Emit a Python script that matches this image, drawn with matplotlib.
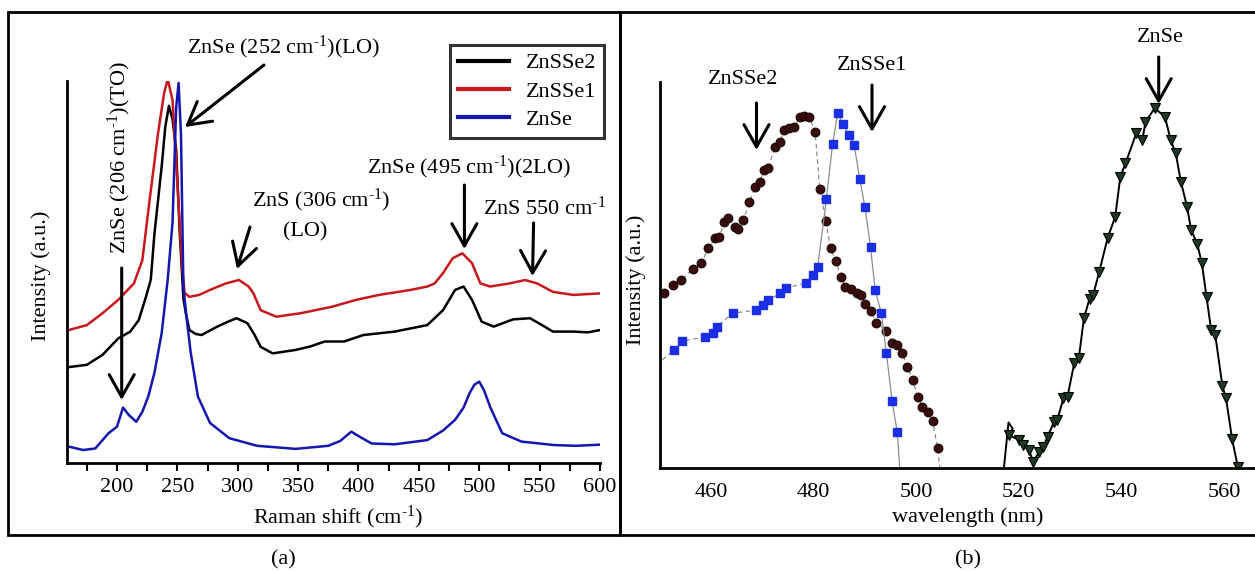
import matplotlib
matplotlib.use('Agg')
import matplotlib.pyplot as plt
from matplotlib.patches import Rectangle
from matplotlib.ticker import MultipleLocator

plt.rcParams['font.family'] = ['Liberation Serif', 'DejaVu Serif']
plt.rcParams['mathtext.fontset'] = 'custom'
plt.rcParams['mathtext.rm'] = 'Liberation Serif'
plt.rcParams['mathtext.default'] = 'regular'

# ---------------- Panel (a): Raman spectra ----------------
raman_znse_x = [160, 172, 182, 193, 200, 205, 210, 216, 221, 226, 231, 237, 242, 246, 249, 251,
                253, 255, 258, 261, 267, 277, 293, 316, 348, 375, 385, 394, 403, 411, 430, 457,
                470, 480, 487, 492, 496, 500, 504, 509, 519, 535, 562, 580, 600]
raman_znse_y = [4.3, 3.4, 3.8, 7.8, 9.5, 14.5, 12.5, 10.8, 13.4, 17.5, 23.6, 34, 48, 63, 93, 99.5,
                86, 46, 37, 29, 17.4, 10.5, 6.5, 4.5, 3.7, 4.5, 5.8, 8.2, 6.5, 5.1, 4.9, 6,
                8.5, 11.3, 14.5, 18.3, 20.5, 21.3, 19, 14.7, 7.8, 5.6, 4.7, 4.5, 4.8]

raman_zsse2_x = [160, 175, 188, 201, 211, 218, 224, 228, 231, 237, 240, 243, 246, 249, 252, 255,
                 257, 260, 265, 270, 283, 292, 299, 308, 314, 319, 329, 348, 360, 372, 388, 404,
                 430, 457, 470, 480, 487, 494, 502, 512, 528, 542, 552, 561, 578, 590, 600]
raman_zsse2_y = [25.1, 25.7, 28.3, 32.6, 34.4, 37.4, 43.5, 48, 60, 77.6, 88, 93.5, 90, 82, 60, 43,
                 39.2, 34.8, 33.8, 33.5, 35.7, 37, 37.9, 36.6, 33.5, 30.4, 28.7, 29.6, 30.5, 31.8, 31.8, 33.5,
                 34.4, 36.1, 40, 45.3, 46.2, 42.7, 37, 35.7, 37.6, 37.9, 36.1, 34.4, 34.4, 34.2, 34.8]

raman_zsse1_x = [160, 175, 188, 201, 214, 221, 227, 234, 239, 242, 246, 250, 254, 256, 260, 268,
                 277, 290, 301, 309, 313, 319, 332, 352, 378, 398, 417, 443, 457, 463, 470, 478,
                 486, 494, 501, 509, 525, 538, 548, 561, 578, 600]
raman_zsse1_y = [34.8, 36.1, 39.2, 42.7, 47, 53.1, 68.8, 86.3, 96.8, 100.5, 95, 73.3, 51.3, 44.5, 43.5, 44,
                 45.3, 47, 47.9, 46.2, 44.4, 40, 38.3, 39.2, 40.9, 42.7, 44, 45.3, 46.2, 47, 49.7, 53.6,
                 54.9, 52.3, 47, 46.2, 47, 47.9, 47, 44.8, 44, 44.4]

raman_ticks = [200, 250, 300, 350, 400, 450, 500, 550, 600]
raman_labels = ['ZnSSe2', 'ZnSSe1', 'ZnSe']

# ---------------- Panel (b): PL spectra ----------------
pl_zsse2_x = [450.9, 452.5, 454.1, 456.5, 458.1, 459.5, 460.8, 461.6, 462.6, 463.4, 464.6, 465.3,
              466.3, 467.5, 468.6, 469.5, 470.3, 471.1, 472.5, 473.5, 474.2, 475.3, 476.2, 477.4,
              478.2, 479.2, 480.3, 481.2, 482.4, 483.3, 484.3, 485.3, 486.2, 487.3, 488.4, 489.2,
              490.0, 491.2, 492.2, 494.2, 495.2, 496.3, 497.3, 498.3, 499.3, 500.3, 501.2, 502.3,
              503.2, 504.2]
pl_zsse2_y = [45.3, 47.4, 48.7, 51.5, 53, 56.9, 59.5, 59.9, 63.8, 64.7, 62.5, 62.0,
              64.2, 68.8, 72.9, 74.2, 77.2, 77.6, 83.2, 84.5, 87.6, 88, 88.4, 91,
              91.2, 90.9, 87.1, 72.3, 64.1, 56.9, 53.7, 49.6, 47, 46.3, 45.3, 44.8,
              42.5, 40.8, 37.6, 35.6, 32.5, 31.9, 29.7, 26.1, 22.8, 18.5, 15.9, 14.6,
              12.1, 5.1]
pl_zsse2_end = (504.6, 0.0)

pl_zsse1_x = [452.8, 454.3, 458.8, 460.3, 461.2, 464.2, 468.8, 470.1, 471.2, 473.5, 474.6, 478.6,
              479.8, 480.8, 482.5, 483.7, 484.7, 485.7, 486.9, 487.9, 489.0, 490.0, 491.1, 492.0,
              493.2, 494.2, 495.3, 496.3]
pl_zsse1_y = [30.6, 32.9, 33.9, 34.9, 36.6, 40.1, 40.9, 42.2, 43.5, 45.3, 46.6, 48,
              50, 52.2, 69.7, 83.9, 92, 89.1, 86.3, 83.7, 74.9, 67.7, 57.3, 46.1,
              40.1, 29.7, 17.4, 9.4]
pl_zsse1_start = (450.5, 28.0)
pl_zsse1_end = (496.8, 0.0)

pl_znse_x = [518.1, 520.0, 520.8, 522.0, 522.8, 524.0, 524.8, 525.6, 526.9, 527.5, 528.7, 529.5,
             530.8, 531.7, 532.7, 533.8, 534.5, 535.7, 537.3, 538.8, 539.8, 540.8, 542.9, 544.1,
             544.7, 546.5, 548.5, 549.6, 550.6, 551.6, 552.8, 553.6, 554.8, 555.7, 556.6, 557.5,
             558.3, 559.7, 560.4, 561.6, 562.7]
pl_znse_y = [8.5, 7.3, 6, 4.7, 1.6, 4.2, 5.5, 8.1, 12, 12.4, 18.1, 18.5,
             27.1, 28.4, 38.8, 43.9, 44.8, 50.9, 59.5, 65.1, 75.5, 78.9, 86.7, 85,
             89.7, 93.2, 91, 85, 81.5, 74.2, 67.7, 61.7, 58, 53, 44.3, 35.8,
             34.5, 21.2, 18.1, 7.4, 0.3]
pl_znse_start_x = [517.1, 518.0, 518.8]
pl_znse_start_y = [0.0, 11.8, 10.2]

pl_ticks = [460, 480, 500, 520, 540, 560]

# ---------------- Figure ----------------
W, H = 1255, 572
fig = plt.figure(figsize=(W / 100, H / 100), dpi=100)


def fx(x):
    return x / W


def fy(y):
    return 1 - y / H


FS = 16
SUP = r'$^{\text{-}1}$'

# panel frames
fig.patches.append(Rectangle((fx(8), fy(535)), fx(620) - fx(8), fy(12) - fy(535),
                             transform=fig.transFigure, fill=False, lw=2.0, ec='black'))
fig.patches.append(Rectangle((fx(620), fy(535)), fx(1258) - fx(620), fy(12) - fy(535),
                             transform=fig.transFigure, fill=False, lw=2.0, ec='black'))

# ---- Axes (a)
ax = fig.add_axes([fx(67), fy(463), fx(600) - fx(67), fy(81) - fy(463)])
ax.set_xlim(158.6, 600)
ax.set_ylim(0, 100)
for s in ['top', 'right']:
    ax.spines[s].set_visible(False)
for s in ['left', 'bottom']:
    ax.spines[s].set_linewidth(2.0)
ax.set_yticks([])
ax.set_xticks(raman_ticks)
ax.xaxis.set_minor_locator(MultipleLocator(25))
ax.tick_params(axis='x', which='both', direction='out', length=6, width=1.5,
               labelsize=FS, pad=5)
ax.patch.set_alpha(0)

l1, = ax.plot(raman_zsse2_x, raman_zsse2_y, color='black', lw=1.8)
l2, = ax.plot(raman_zsse1_x, raman_zsse1_y, color='#c8181c', lw=1.8)
l3, = ax.plot(raman_znse_x, raman_znse_y, color='#1515b0', lw=1.8)

leg = ax.legend([l1, l2, l3], raman_labels, loc='upper right',
                bbox_to_anchor=(fx(604), fy(45)), bbox_transform=fig.transFigure,
                fontsize=16, frameon=True, fancybox=False, borderaxespad=0,
                handlelength=2.3, handletextpad=0.75, labelspacing=0.35, borderpad=0.35)
leg.get_frame().set_edgecolor('black')
leg.get_frame().set_linewidth(2.2)
for h in leg.get_lines():
    h.set_linewidth(3)

fig.text(fx(41.5), fy(276), 'Intensity (a.u.)', rotation=90, ha='center', va='center', fontsize=FS)
fig.text(fx(338), fy(517), 'Raman shift (cm' + SUP + ')', ha='center', va='center', fontsize=FS)
fig.text(fx(283), fy(560), '(a)', ha='center', va='center', fontsize=FS)

arrow_kw = dict(arrowstyle='->,head_length=0.8,head_width=0.45', lw=2.2, color='black',
                mutation_scale=20, shrinkA=0, shrinkB=0)


def arrow(x0, y0, x1, y1):
    ax.annotate('', xy=(fx(x1), fy(y1)), xytext=(fx(x0), fy(y0)),
                xycoords='figure fraction', textcoords='figure fraction', arrowprops=arrow_kw)


fig.text(fx(283), fy(47), 'ZnSe (252 cm' + SUP + ')(LO)', ha='center', va='center', fontsize=FS)
arrow(264, 65, 185, 127)
fig.text(fx(119), fy(158), 'ZnSe (206 cm' + SUP + ')(TO)', rotation=90, ha='center', va='center', fontsize=FS)
arrow(121.7, 268, 121.7, 400)
fig.text(fx(321), fy(200), 'ZnS (306 cm' + SUP + ')', ha='center', va='center', fontsize=FS)
fig.text(fx(305), fy(232), '(LO)', ha='center', va='center', fontsize=FS)
arrow(250, 227, 237, 269)
fig.text(fx(469), fy(167), 'ZnSe (495 cm' + SUP + ')(2LO)', ha='center', va='center', fontsize=FS)
arrow(464.4, 185, 464.4, 249)
fig.text(fx(545), fy(208), 'ZnS 550 cm' + SUP, ha='center', va='center', fontsize=FS)
arrow(533.6, 223, 532.5, 276)

# ---- Axes (b)
bx = fig.add_axes([fx(659.7), fy(468), fx(1255) - fx(659.7), fy(82) - fy(468)])
bx.set_xlim(450, 566.05)
bx.set_ylim(0, 100)
for s in ['top', 'right']:
    bx.spines[s].set_visible(False)
for s in ['left', 'bottom']:
    bx.spines[s].set_linewidth(2.0)
bx.set_yticks([])
bx.set_xticks(pl_ticks)
bx.tick_params(axis='x', length=0, labelsize=FS, pad=11)
bx.patch.set_alpha(0)

bx.plot(pl_zsse2_x + [pl_zsse2_end[0]], pl_zsse2_y + [pl_zsse2_end[1]],
        color='0.5', lw=0.8, ls=(0, (4, 3)))
bx.plot(pl_zsse2_x, pl_zsse2_y, 'o', ms=6.3, mfc='#3a0c0c', mec='#1a0404', mew=0.8)

bx.plot([pl_zsse1_start[0]] + pl_zsse1_x[:14], [pl_zsse1_start[1]] + pl_zsse1_y[:14],
        color='0.5', lw=0.8, ls=(0, (4, 3)))
bx.plot(pl_zsse1_x[13:] + [pl_zsse1_end[0]], pl_zsse1_y[13:] + [pl_zsse1_end[1]],
        color='0.55', lw=0.9)
bx.plot(pl_zsse1_x, pl_zsse1_y, 's', ms=5.6, mfc='#1a2ee6', mec='#1a2ee6')

bx.plot(pl_znse_start_x + pl_znse_x, pl_znse_start_y + pl_znse_y, color='black', lw=1.4)
bx.plot(pl_znse_x, pl_znse_y, 'v', ms=7.5, mfc='#1e3a22', mec='black', mew=0.8)

fig.text(fx(636), fy(280), 'Intensity (a.u.)', rotation=90, ha='center', va='center', fontsize=FS)
fig.text(fx(968), fy(517), 'wavelength (nm)', ha='center', va='center', fontsize=FS)
fig.text(fx(968), fy(560), '(b)', ha='center', va='center', fontsize=FS)

fig.text(fx(743), fy(80), 'ZnSSe2', ha='center', va='center', fontsize=16)
arrow(756.5, 103, 756.5, 150)
fig.text(fx(872), fy(65), 'ZnSSe1', ha='center', va='center', fontsize=16)
arrow(872, 85, 872, 132)
fig.text(fx(1160), fy(38), 'ZnSe', ha='center', va='center', fontsize=16)
arrow(1158.7, 57, 1158.7, 104)

fig.savefig('out.png', dpi=100)
